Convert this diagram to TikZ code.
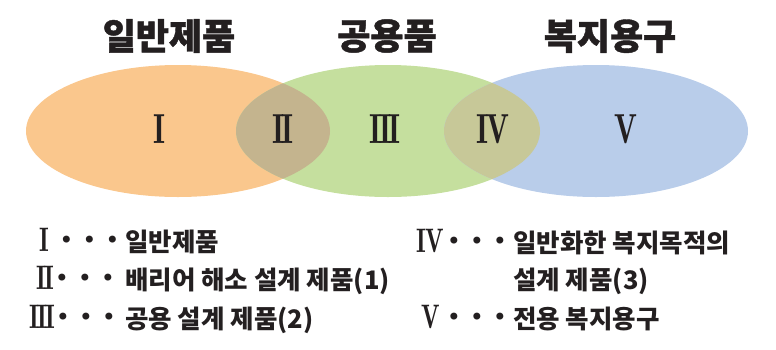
\documentclass[tikz,border=0pt]{standalone}
\usepackage{fontspec}
\usepackage{graphicx}
\newfontfamily\kr{Noto Sans CJK KR}
\newfontfamily\krh[BoldFeatures={FakeBold=1.2}]{Noto Sans CJK KR}
\newfontfamily\lmr{lmromandemi10-regular.otf}
\newfontfamily\dv{DejaVu Sans}
\definecolor{orangeE}{HTML}{FAC78D}
\definecolor{greenE}{HTML}{C5DF9E}
\definecolor{blueE}{HTML}{B9CDEA}
\definecolor{ovA}{HTML}{C4B48E}
\definecolor{ovB}{HTML}{C7C898}
\definecolor{ink}{HTML}{231F20}
\newcommand{\rn}[1]{\scalebox{0.72}[1]{#1}}
\newcommand{\threedots}{•\hspace{8.8pt}•\hspace{8.8pt}•}
\begin{document}
\begin{tikzpicture}[x=1pt,y=-1pt,
  title/.style={font=\krh\bfseries\fontsize{36}{36}\selectfont, text=ink, inner sep=0pt},
  roman/.style={font=\lmr\fontsize{42}{42}\selectfont, text=ink, inner sep=0pt},
  lroman/.style={font=\lmr\fontsize{34}{34}\selectfont, text=ink, inner sep=0pt, anchor=base},
  dots/.style={font=\dv\fontsize{24}{24}\selectfont, text=ink, inner sep=0pt},
  legend/.style={font=\kr\bfseries\fontsize{25.5}{25.5}\selectfont, text=ink, inner sep=0pt, anchor=base west}]
\useasboundingbox (0,0) rectangle (776,349);
% ellipses
\fill[orangeE] (178,131) ellipse [x radius=152, y radius=66];
\fill[greenE] (388,131) ellipse [x radius=152, y radius=66];
\fill[blueE] (596,131) ellipse [x radius=152, y radius=66];
\begin{scope}
  \clip (178,131) ellipse [x radius=152, y radius=66];
  \fill[ovA] (388,131) ellipse [x radius=152, y radius=66];
\end{scope}
\begin{scope}
  \clip (388,131) ellipse [x radius=152, y radius=66];
  \fill[ovB] (596,131) ellipse [x radius=152, y radius=66];
\end{scope}
% titles
\node[title] (t1) at (169,36) {일반제품};
\node[title] (t2) at (387,36) {공용품};
\node[title] (t3) at (610,36) {복지용구};
% region numerals
\node[roman] (r1) at (160,129) {\rn{I}};
\node[roman] (r2) at (283,129) {\rn{I\kern-0.07em I}};
\node[roman] (r3) at (385,129) {\rn{I\kern-0.07em I\kern-0.07em I}};
\node[roman] (r4) at (493,129) {\rn{I\kern-0.05em V}};
\node[roman] (r5) at (626,129) {\rn{V}};
% legend left
\node[lroman] (l1) at (44,251.7) {\rn{I}};
\node[lroman] (l2) at (45,289.7) {\rn{I\kern-0.07em I}};
\node[lroman] (l3) at (42.5,328.7) {\rn{I\kern-0.07em I\kern-0.07em I}};
\node[dots] (p1) at (89.5,242) {\threedots};
\node[dots] (p2) at (85,280) {\threedots};
\node[dots] (p3) at (86,319) {\threedots};
\node[legend] (d1) at (125,251.7) {일반제품};
\node[legend] (d2) at (125,289.7) {배리어 해소 설계 제품(1)};
\node[legend] (d3) at (125,328.7) {공용 설계 제품(2)};
% legend right
\node[lroman] (l4) at (430,252.7) {\rn{I\kern-0.05em V}};
\node[lroman] (l5) at (430.5,328.7) {\rn{V}};
\node[dots] (p4) at (477,243) {\threedots};
\node[dots] (p5) at (477,319) {\threedots};
\node[legend] (d4) at (513,252.7) {일반화한 복지목적의};
\node[legend] (d4b) at (513,289.7) {설계 제품(3)};
\node[legend] (d5) at (513,328.7) {전용 복지용구};
\end{tikzpicture}
\end{document}
